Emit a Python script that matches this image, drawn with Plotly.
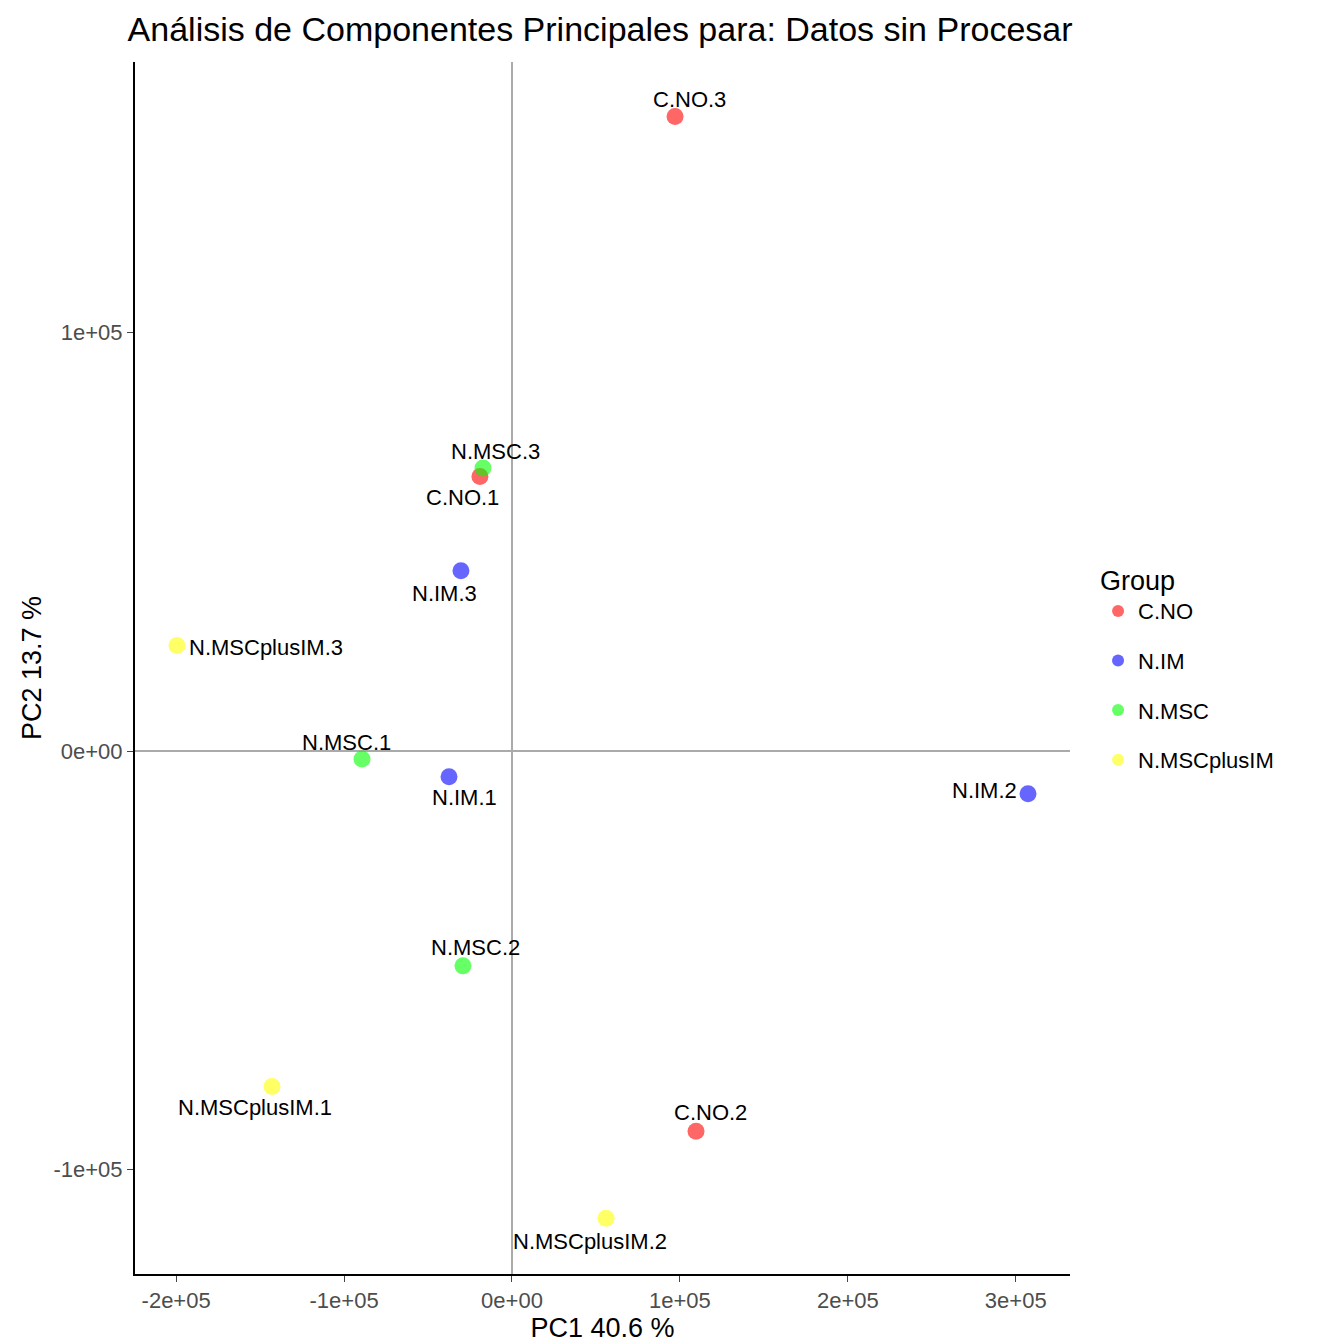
import plotly.graph_objects as go

names = ["C.NO.1","C.NO.2","C.NO.3","N.IM.1","N.IM.2","N.IM.3","N.MSC.1","N.MSC.2","N.MSC.3",
         "N.MSCplusIM.1","N.MSCplusIM.2","N.MSCplusIM.3"]
groups = ["C.NO"]*3 + ["N.IM"]*3 + ["N.MSC"]*3 + ["N.MSCplusIM"]*3
pc1 = [-19100, 109600, 97100, -37500, 307300, -30400, -89300, -29200, -17300, -142900, 56000, -199500]
pc2 = [65600, -90800, 151600, -6100, -10200, 43100, -1900, -51300, 67600, -80100, -111600, 25200]
# label pixel offsets (style)
dx = [-17, 14, 14, 15, -44, -16, -16, 13, 13, -17, -16, 89]
dy = [21, -19, -17, 21, -3, 23, -17, -18, -17, 21, 23, 2]

colors = {"C.NO":"rgba(255,0,0,0.6)","N.IM":"rgba(0,0,255,0.6)",
          "N.MSC":"rgba(0,255,0,0.6)","N.MSCplusIM":"rgba(255,255,0,0.6)"}

fig = go.Figure()
for g in ["C.NO","N.IM","N.MSC","N.MSCplusIM"]:
    idx = [i for i,v in enumerate(groups) if v==g]
    fig.add_trace(go.Scatter(x=[pc1[i] for i in idx], y=[pc2[i] for i in idx], mode="markers",
                             name=g, legendgroup=g,
                             marker=dict(size=17, color=colors[g], line=dict(width=0))))
for i,n in enumerate(names):
    fig.add_annotation(x=pc1[i], y=pc2[i], text=n, showarrow=False, xshift=dx[i], yshift=-dy[i],
                       font=dict(size=22, color="black"))

fig.update_layout(
    width=1344, height=1344, plot_bgcolor="white", paper_bgcolor="white",
    font=dict(family="Liberation Sans, Arial", color="black"),
    title=dict(text="Análisis de Componentes Principales para: Datos sin Procesar", x=0.089, xanchor="left",
               y=0.984, yanchor="middle", font=dict(size=34)),
    margin=dict(l=127, r=282, t=54, b=78),
    legend=dict(title=dict(text="Group", font=dict(size=27)), font=dict(size=22), x=1.03, y=0.5,
                yanchor="middle", itemsizing="constant", tracegroupgap=18),
    xaxis=dict(range=[-224500, 332300], tickvals=[-200000,-100000,0,100000,200000,300000],
               ticktext=["-2e+05","-1e+05","0e+00","1e+05","2e+05","3e+05"],
               showgrid=False, zeroline=True, zerolinecolor="#aaaaaa", zerolinewidth=1.5,
               showline=True, linecolor="black", linewidth=2, ticks="outside", ticklen=6,
               tickfont=dict(size=22, color="#4d4d4d"),
               title=dict(text="PC1 40.6 %", font=dict(size=27), standoff=6)),
    yaxis=dict(range=[-124900, 164600], tickvals=[-100000,0,100000],
               ticktext=["-1e+05","0e+00","1e+05"],
               showgrid=False, zeroline=True, zerolinecolor="#aaaaaa", zerolinewidth=1.5,
               showline=True, linecolor="black", linewidth=2, ticks="outside", ticklen=6,
               tickfont=dict(size=22, color="#4d4d4d"),
               title=dict(text="PC2 13.7 %", font=dict(size=27), standoff=4)),
)
fig.write_html("out.html")
